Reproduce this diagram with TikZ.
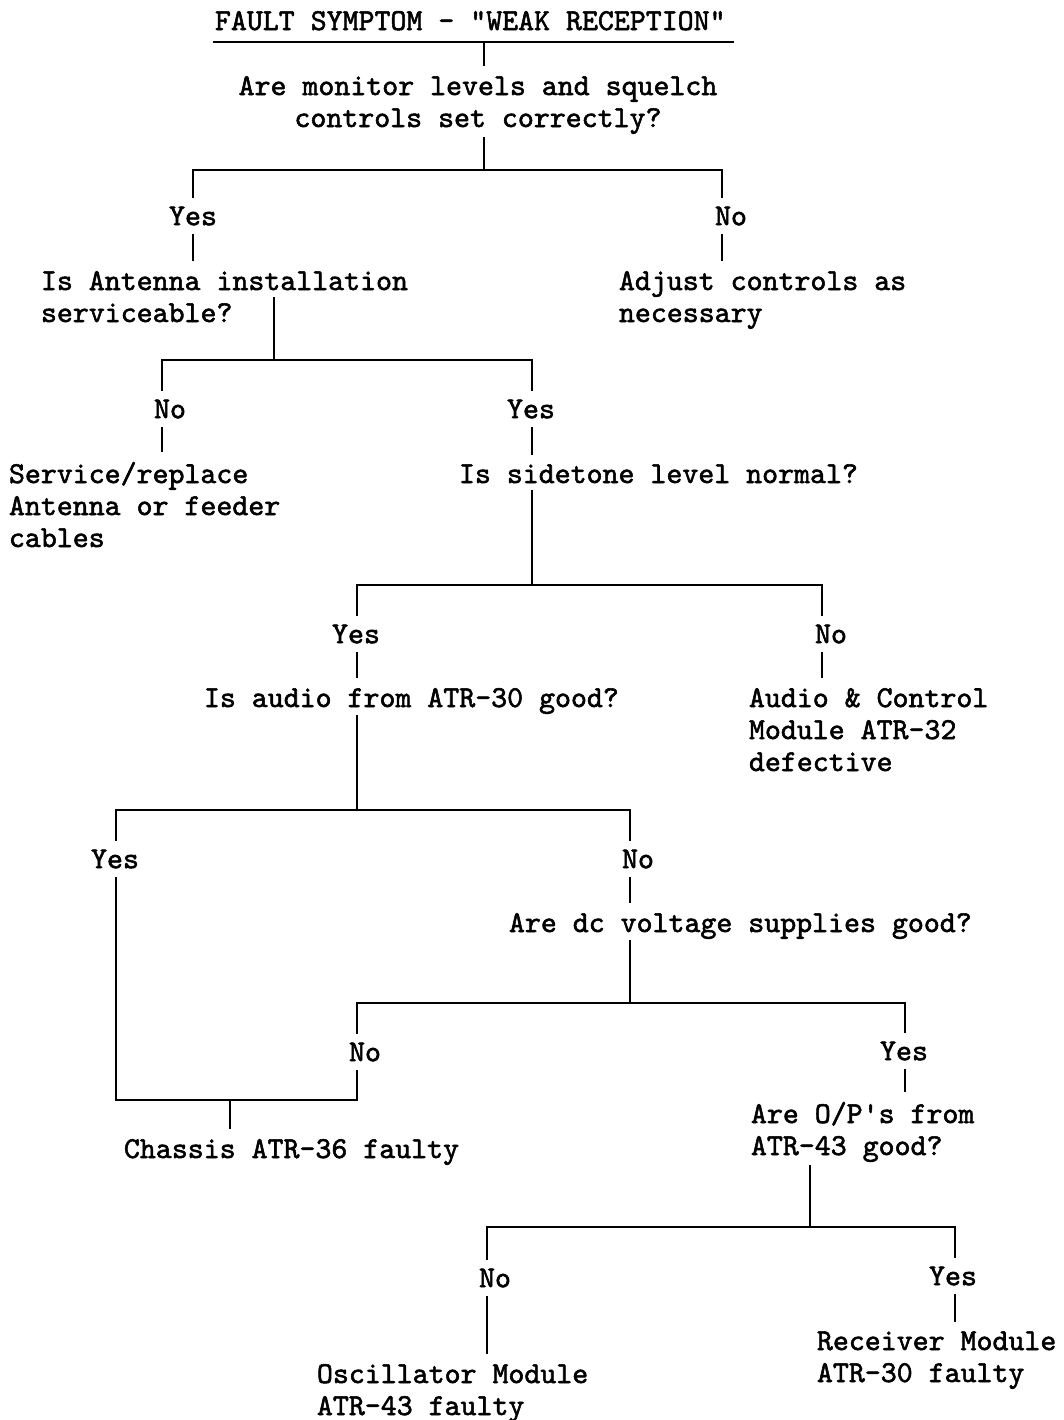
\documentclass[tikz,border=0pt]{standalone}
\usepackage{fontspec}
\newfontfamily\flowtt{lmmono10-regular.otf}[FakeBold=1.8]
\tikzset{answer/.style = {inner xsep=0pt, inner ysep=4.4pt}}
\tikzset{entry/.style = {anchor=base west, align=left, inner xsep=0pt, inner ysep=5pt}}

\begin{document}
\begin{tikzpicture}[x=0.02cm, y=-0.02cm, line width=1.1pt,
		font=\flowtt\fontsize{17.3pt}{18.2pt}\selectfont]
		\useasboundingbox (0,0) rectangle (1063,1420);
		% questions, answers and results (base = last line)
		\node [entry] (title) at (214,30) {FAULT SYMPTOM - "WEAK RECEPTION"};
		\node [entry, align=center, anchor=base] (q1) at (478,127) {Are monitor levels and squelch\\controls set correctly?};
		\node [answer] (yes1) at (193,216) {Yes};
		\node [answer] (no1) at (731,216) {No};
		\node [entry] (q2) at (40,322) {Is Antenna installation\\serviceable?};
		\node [entry] (fix1) at (618,322) {Adjust controls as\\necessary};
		\node [answer] (no2) at (170,409) {No};
		\node [answer] (yes2) at (531,409) {Yes};
		\node [entry] (fix2) at (8,547) {Service/replace\\Antenna or feeder\\cables};
		\node [entry] (q3) at (458,483) {Is sidetone level normal?};
		\node [answer] (yes3) at (356,634) {Yes};
		\node [answer] (no3) at (831,634) {No};
		\node [entry] (q4) at (203,707) {Is audio from ATR-30 good?};
		\node [entry] (fix3) at (748,771) {Audio \& Control\\Module ATR-32\\defective};
		\node [answer] (yes4) at (115,859) {Yes};
		\node [answer] (no4) at (638,859) {No};
		\node [entry] (q5) at (508,932) {Are dc voltage supplies good?};
		\node [answer] (no5) at (365,1052) {No};
		\node [answer] (yes5) at (904,1051) {Yes};
		\node [entry] (fix4) at (123,1158) {Chassis ATR-36 faulty};
		\node [entry] (q6) at (750,1155) {Are O/P's from\\ATR-43 good?};
		\node [answer] (no6) at (495,1278) {No};
		\node [answer] (yes6) at (953,1276) {Yes};
		\node [entry] (fix5) at (316,1415) {Oscillator Module\\ATR-43 faulty};
		\node [entry] (fix6) at (816,1382) {Receiver Module\\ATR-30 faulty};
		% branch points
		\coordinate (s0) at (484,42);
		\coordinate (j1) at (484,170);
		\coordinate (l1) at (193,170);
		\coordinate (r1) at (722,170);
		\coordinate (j2) at (274,360);
		\coordinate (l2) at (162,360);
		\coordinate (r2) at (532,360);
		\coordinate (j3) at (532,585);
		\coordinate (l3) at (357,585);
		\coordinate (r3) at (822,585);
		\coordinate (j4) at (357,810);
		\coordinate (l4) at (116,810);
		\coordinate (r4) at (630,810);
		\coordinate (j5) at (630,1003);
		\coordinate (l5) at (357,1003);
		\coordinate (r5) at (905,1003);
		\coordinate (m1) at (116,1100);
		\coordinate (m2) at (357,1100);
		\coordinate (m) at (230,1100);
		\coordinate (j6) at (810,1227);
		\coordinate (l6) at (487,1227);
		\coordinate (r6) at (955,1227);
		% title
		\draw ([shift={(-1,12)}]title.base west) to ([shift={(7,12)}]title.base east);
		\draw (s0) to (s0 |- q1.north);
		% monitor levels
		\draw (j1 |- q1.base) ++(0,10) to (j1);
		\draw (l1 |- yes1.north) to (l1) to (r1) to (r1 |- no1.north);
		\draw (l1 |- yes1.south) to (l1 |- q2.north);
		\draw (r1 |- no1.south) to (r1 |- fix1.north);
		% antenna
		\draw (j2 |- q2.base) ++(0,-25) to (j2);
		\draw (l2 |- no2.north) to (l2) to (r2) to (r2 |- yes2.north);
		\draw (l2 |- no2.south) to (l2 |- fix2.north);
		\draw (r2 |- yes2.south) to (r2 |- q3.north);
		% sidetone
		\draw (j3 |- q3.base) ++(0,7) to (j3);
		\draw (l3 |- yes3.north) to (l3) to (r3) to (r3 |- no3.north);
		\draw (l3 |- yes3.south) to (l3 |- q4.north);
		\draw (r3 |- no3.south) to (r3 |- fix3.north);
		% audio
		\draw (j4 |- q4.base) ++(0,8) to (j4);
		\draw (l4 |- yes4.north) to (l4) to (r4) to (r4 |- no4.north);
		\draw (r4 |- no4.south) to (r4 |- q5.north);
		% dc supplies
		\draw (j5 |- q5.base) ++(0,8) to (j5);
		\draw (l5 |- no5.north) to (l5) to (r5) to (r5 |- yes5.north);
		\draw (r5 |- yes5.south) to (r5 |- q6.north);
		\draw (l4 |- yes4.south) to (m1) to (m2) to (l5 |- no5.south);
		\draw (m) to (m |- fix4.north);
		% outputs
		\draw (j6 |- q6.base) ++(0,10) to (j6);
		\draw (l6 |- no6.north) to (l6) to (r6) to (r6 |- yes6.north);
		\draw (l6 |- no6.south) to (l6 |- fix5.north);
		\draw (r6 |- yes6.south) to (r6 |- fix6.north);
\end{tikzpicture}
\end{document}
